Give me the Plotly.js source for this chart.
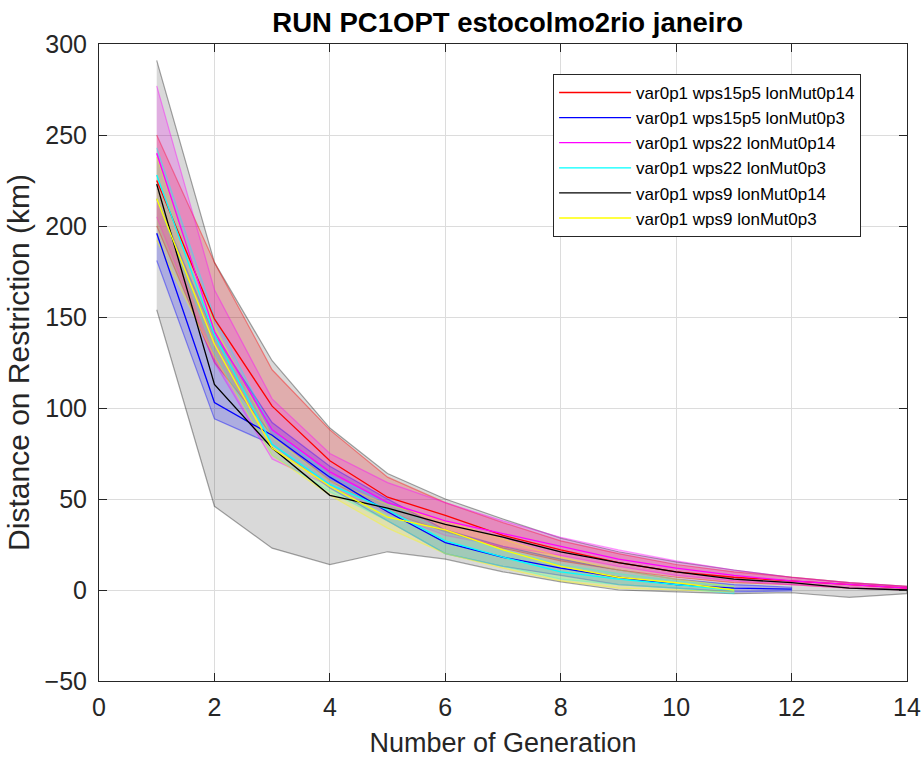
<!DOCTYPE html>
<html>
<head>
<meta charset="utf-8">
<script src="https://cdn.plot.ly/plotly-3.0.1.min.js"></script>
<style>html,body{margin:0;padding:0;background:#fff}#chart{width:923px;height:758px}</style>
</head>
<body>
<div id="chart"></div>
<script>
// generations
const gen14 = [1,2,3,4,5,6,7,8,9,10,11,12,13,14];
const gen12 = [1,2,3,4,5,6,7,8,9,10,11,12];
const gen11 = [1,2,3,4,5,6,7,8,9,10,11];

const seriesNames = [
  "var0p1 wps15p5 lonMut0p14",
  "var0p1 wps15p5 lonMut0p3",
  "var0p1 wps22 lonMut0p14",
  "var0p1 wps22 lonMut0p3",
  "var0p1 wps9 lonMut0p14",
  "var0p1 wps9 lonMut0p3"
];

// red: wps15p5 lonMut0p14
const redMean  = [225, 149, 101, 71, 51, 41, 30, 22, 15, 10, 7, 5, 2.7, 1];
const redUpper = [250, 180, 121, 88, 62, 48, 37, 27, 20, 14, 10, 7, 4, 2];
const redLower = [200, 125, 85, 60, 43, 32, 23, 16, 11, 7, 4, 3, 1, 0];

// blue: wps15p5 lonMut0p3
const blueMean  = [196, 103, 85, 62, 43, 26, 18, 12, 7, 3, 1, 0.5];
const blueUpper = [215, 140, 92, 68, 50, 33, 24, 17, 11, 6, 3, 1.5];
const blueLower = [181, 94, 80, 56, 38, 20, 13, 8, 3, 1, -1, -0.5];

// magenta: wps22 lonMut0p14
const magMean  = [240, 142, 88, 65, 48, 38, 31, 24, 17, 12, 8, 5, 3, 1];
const magUpper = [277, 165, 105, 75, 59, 48, 38, 29, 22, 16, 11, 7, 4, 2];
const magLower = [205, 125, 72, 57, 42, 30, 24, 19, 13, 8, 5, 3, 1, 0];

// cyan: wps22 lonMut0p3
const cyanMean  = [228, 140, 80, 58, 44, 27, 18, 10, 6, 3, 0];
const cyanUpper = [243, 150, 88, 63, 48, 32, 22, 14, 9, 5, 2];
const cyanLower = [215, 130, 74, 54, 38, 20, 13, 6, 3, 1, -2];

// black: wps9 lonMut0p14
const blackMean  = [223, 113, 78, 52, 45, 36, 29, 21, 15, 10, 6, 4, 1, 0];
const blackUpper = [291, 180, 126, 89, 64, 50, 39, 28.5, 21, 15.5, 11, 7, 4, 2];
const blackLower = [154, 46, 23, 14, 21, 17, 10, 4.5, 0, -1, -2, -1.5, -4, -2];

// yellow: wps9 lonMut0p3
const yelMean  = [215, 135, 78, 57, 40, 33, 22, 13, 7, 4, 0];
const yelUpper = [238, 145, 84, 60, 47, 38, 28, 18, 11, 6, 2];
const yelLower = [192, 128, 74, 52, 34, 20, 12, 5, 1, 0, -1];

const series = [
  {x: gen14, m: redMean,  u: redUpper,  l: redLower,  c: [255,0,0],   fa: 0.2},
  {x: gen12, m: blueMean, u: blueUpper, l: blueLower, c: [0,0,255],   fa: 0.2},
  {x: gen14, m: magMean,  u: magUpper,  l: magLower,  c: [255,0,255], fa: 0.2},
  {x: gen11, m: cyanMean, u: cyanUpper, l: cyanLower, c: [0,255,255], fa: 0.2},
  {x: gen14, m: blackMean,u: blackUpper,l: blackLower,c: [0,0,0],     fa: 0.15},
  {x: gen11, m: yelMean,  u: yelUpper,  l: yelLower,  c: [255,255,0], fa: 0.2}
];
const bandOrder = [4, 0, 1, 2, 3, 5];

const traces = [];
bandOrder.forEach(i => {
  const s = series[i];
  const rgb = s.c.join(',');
  traces.push({
    x: s.x.concat(s.x.slice().reverse()),
    y: s.u.concat(s.l.slice().reverse()),
    type: 'scatter', mode: 'lines', fill: 'toself',
    fillcolor: `rgba(${rgb},${s.fa})`,
    line: {color: i === 4 ? 'rgba(0,0,0,0.35)' : `rgba(${rgb},0.4)`, width: 1.2},
    hoverinfo: 'skip', showlegend: false
  });
});
series.forEach((s, i) => {
  traces.push({
    x: s.x, y: s.m, type: 'scatter', mode: 'lines',
    name: seriesNames[i],
    line: {color: `rgb(${s.c.join(',')})`, width: 1.3}
  });
});

const FONT = 'Liberation Sans, Arial, Helvetica, sans-serif';
const axisCommon = {
  showline: true, linecolor: '#262626', linewidth: 1, mirror: 'ticks',
  ticks: 'inside', ticklen: 8, tickcolor: '#262626',
  showgrid: true, gridcolor: '#dcdcdc', zeroline: false, automargin: false,
  tickfont: {family: FONT, size: 25, color: '#262626'}
};

const layout = {
  width: 923, height: 758,
  margin: {l: 99, r: 16, t: 44, b: 77},
  paper_bgcolor: '#fff', plot_bgcolor: '#fff',
  title: {text: '<b>RUN PC1OPT estocolmo2rio janeiro</b>', x: 0.55, xanchor: 'center', y: 0.971, yanchor: 'middle',
          font: {family: FONT, size: 27.5, color: '#000'}},
  xaxis: Object.assign({}, axisCommon, {range: [0, 14], dtick: 2, tick0: 0, ticklabelstandoff: 4,
    title: {text: 'Number of Generation', standoff: 16, font: {family: FONT, size: 27, color: '#262626'}}}),
  yaxis: Object.assign({}, axisCommon, {range: [-50, 300], dtick: 50, tick0: 0, ticklabelstandoff: 6,
    title: {text: 'Distance on Restriction (km)', standoff: 6, font: {family: FONT, size: 30, color: '#262626'}}}),
  legend: {x: 0.562, y: 0.953, xanchor: 'left', yanchor: 'top',
    bgcolor: '#fff', bordercolor: '#262626', borderwidth: 1,
    font: {family: FONT, size: 17, color: '#000'},
    tracegroupgap: 0, itemwidth: 72},
  showlegend: true
};

Plotly.newPlot('chart', traces, layout, {displayModeBar: false, staticPlot: true});
</script>
</body>
</html>
